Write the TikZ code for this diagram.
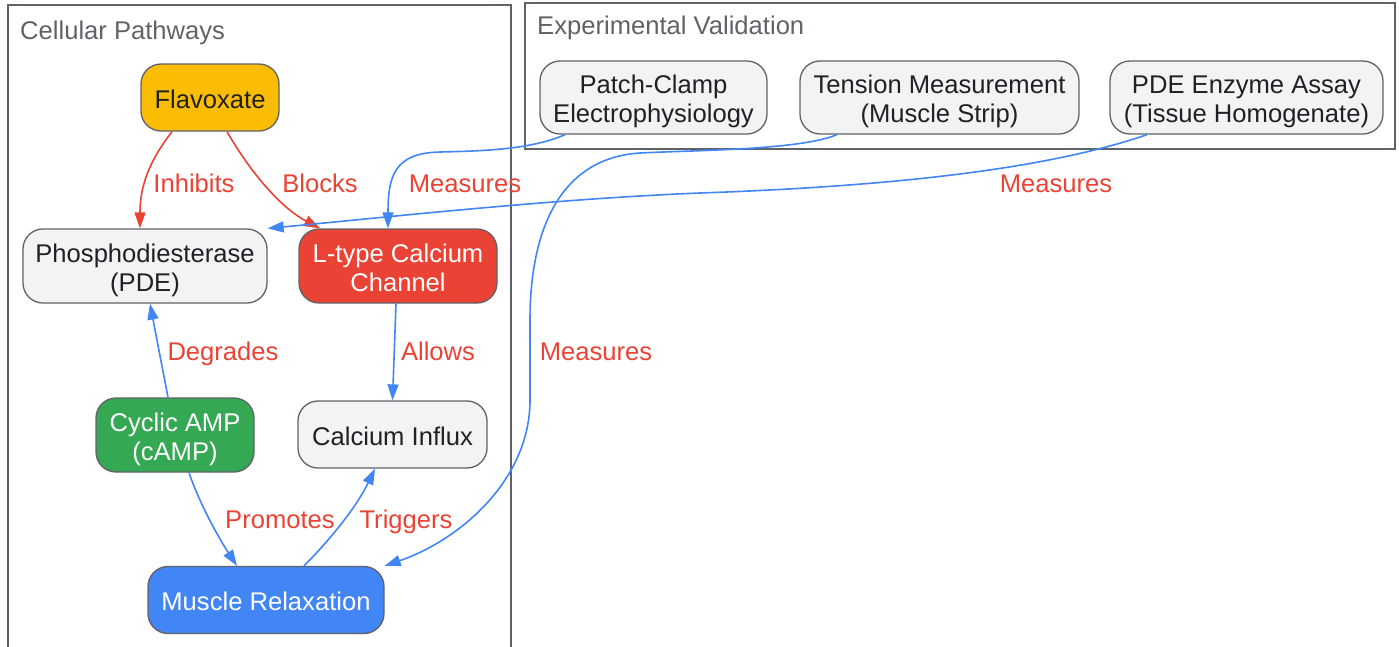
\documentclass[tikz,border=0pt]{standalone}
\usepackage{fontspec}
\setmainfont{Liberation Sans}
\usetikzlibrary{arrows.meta,calc}
\definecolor{gyellow}{HTML}{FBBC04}
\definecolor{gred}{HTML}{EA4335}
\definecolor{ggreen}{HTML}{34A853}
\definecolor{gblue}{HTML}{4285F4}
\definecolor{glight}{HTML}{F1F3F4}
\definecolor{gborder}{HTML}{5F6368}
\definecolor{gtext}{HTML}{202124}
\definecolor{gtitle}{HTML}{5F6368}
\newcommand\nf{\fontsize{25.6}{29}\selectfont}
\begin{document}
\begin{tikzpicture}[x=1pt,y=-1pt,
  box/.style={draw=gborder, line width=1.3pt, rounded corners=20pt, align=center, inner sep=0pt, font=\nf, text=gtext, fill=glight, text depth=0pt},
  oneline/.style={text height=21pt},
  twoline/.style={text height=50.5pt},
  lbl/.style={font=\nf, text=gred, inner sep=0pt, anchor=base},
  redge/.style={draw=gred, line width=1.6pt, -{Triangle[length=16pt,width=11pt]}},
  bedge/.style={draw=gblue, line width=1.6pt, -{Triangle[length=16pt,width=11pt]}},
  cluster/.style={draw=gborder, line width=1.3pt},
  ctitle/.style={font=\nf, text=gtitle, anchor=base west, inner sep=0pt}]
\useasboundingbox (0,0) rectangle (1399,646);
% clusters
\draw[cluster] (8,5) rectangle (511,670);
\draw[cluster] (525,3) rectangle (1395,149);
\node[ctitle] (t1) at (20,39) {Cellular Pathways};
\node[ctitle] (t2) at (537,34) {Experimental Validation};
% nodes
\node[box, oneline, fill=gyellow, minimum width=138pt, minimum height=67pt] (flav) at (210,97.5) {Flavoxate};
\node[box, twoline, minimum width=244pt, minimum height=74pt] (pde) at (145,266) {Phosphodiesterase\\(PDE)};
\node[box, twoline, fill=gred, text=white, minimum width=198pt, minimum height=74pt] (ltype) at (398,266) {L-type Calcium\\Channel};
\node[box, twoline, fill=ggreen, text=white, minimum width=158pt, minimum height=74pt] (camp) at (175,435) {Cyclic AMP\\(cAMP)};
\node[box, oneline, minimum width=189pt, minimum height=67pt] (influx) at (392.5,434.5) {Calcium Influx};
\node[box, oneline, fill=gblue, text=white, minimum width=236pt, minimum height=67pt] (muscle) at (266,600) {Muscle Relaxation};
\node[box, twoline, minimum width=227pt, minimum height=73pt] (patch) at (653.5,97.5) {Patch-Clamp\\Electrophysiology};
\node[box, twoline, minimum width=279pt, minimum height=73pt] (tension) at (939.5,97.5) {Tension Measurement\\(Muscle Strip)};
\node[box, twoline, minimum width=273pt, minimum height=73pt] (assay) at (1246.5,97.5) {PDE Enzyme Assay\\(Tissue Homogenate)};
% edges
\draw[redge] ([xshift=-38pt]flav.south) .. controls (150,160) and (140,185) .. ([xshift=-5pt]pde.north);
\draw[redge] ([xshift=17pt]flav.south) .. controls (255,180) and (285,210) .. ([xshift=-78pt]ltype.north);
\draw[bedge] ([xshift=-88.5pt]patch.south) .. controls (530,150) and (480,151) .. (440,152) .. controls (395,153) and (388,175) .. ([xshift=-10pt]ltype.north);
\draw[bedge] ([xshift=-99.5pt]assay.south) .. controls (1050,168) and (900,186) .. (700,193) .. controls (550,199) and (380,218) .. (pde.north east);
\draw[bedge] ([xshift=-102.5pt]tension.south) .. controls (800,150) and (700,150) .. (640,153) .. controls (560,158) and (530,230) .. (530,320) -- (530,400) .. controls (530,480) and (460,540) .. (muscle.north east);
\draw[bedge] ([xshift=-7pt]camp.north) -- ([xshift=5pt]pde.south);
\draw[bedge] ([xshift=-2pt]ltype.south) -- (influx.north);
\draw[bedge] ([xshift=14pt]camp.south) .. controls (200,505) and (220,540) .. ([xshift=-29pt]muscle.north);
\draw[bedge] ([xshift=38pt]muscle.north) .. controls (325,545) and (355,510) .. ([xshift=-17.5pt]influx.south);
% labels
\node[lbl] (l1) at (194,192.5) {Inhibits};
\node[lbl] (l2) at (320,192.5) {Blocks};
\node[lbl] (l3) at (465,192.5) {Measures};
\node[lbl] (l4) at (1056,192.5) {Measures};
\node[lbl] (l5) at (596,360) {Measures};
\node[lbl] (l6) at (223,360) {Degrades};
\node[lbl] (l7) at (438,360) {Allows};
\node[lbl] (l8) at (280,528.5) {Promotes};
\node[lbl] (l9) at (406,528.5) {Triggers};
\end{tikzpicture}
\end{document}
